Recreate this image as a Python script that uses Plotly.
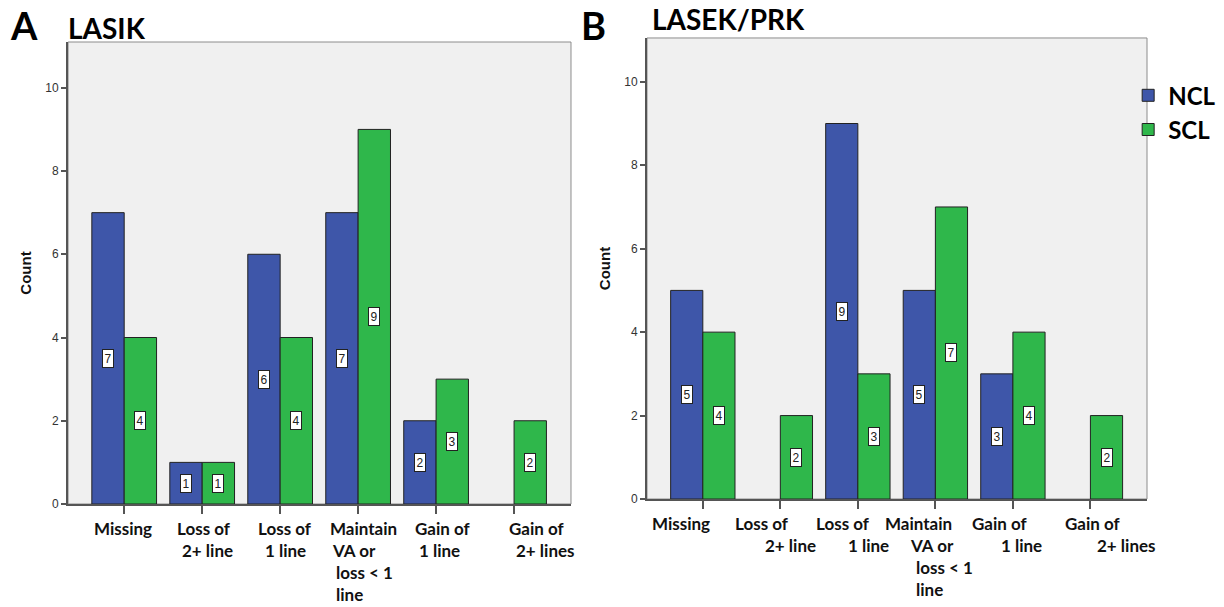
import plotly.graph_objects as go

# Outcome categories and their wrapped axis labels
categories = ["Missing", "Loss of 2+ line", "Loss of 1 line",
              "Maintain VA or loss < 1 line", "Gain of 1 line", "Gain of 2+ lines"]
category_lines = [["Missing"], ["Loss of", "2+ line"], ["Loss of", "1 line"],
                  ["Maintain", "VA or", "loss < 1", "line"], ["Gain of", "1 line"],
                  ["Gain of", "2+ lines"]]

# Counts per outcome
lasik_ncl = [7, 1, 6, 7, 2, 0]
lasik_scl = [4, 1, 4, 9, 3, 2]
lasek_ncl = [5, 0, 9, 5, 3, 0]
lasek_scl = [4, 2, 3, 7, 4, 2]

y_ticks = [0, 2, 4, 6, 8, 10]

# Styling
BLUE = "#3E56A9"
GREEN = "#2FB74B"
EDGE = "#222222"
PLOT_BG = "#F0F0F0"
AXIS = "#555555"
BAR_W = 0.415
LABEL_FONT = "Lato"
NUM_FONT = "Liberation Sans"

# left edge of each label line, in px relative to the category tick
label_offsets = {
    "A": [[-31], [-26, -21], [-23, -16], [-29, -27, -23, -23], [-22, -18], [-6, 1]],
    "B": [[-52], [-46, -16], [-43, -11], [-51, -26, -20, -20], [-42, -13], [-26, 6]],
}
LABEL_TOP = -24      # first label line below the axis, px
LABEL_STEP = 22      # line spacing of wrapped labels, px

xs = list(range(len(categories)))


def nz(vals):
    return [v if v else None for v in vals]


fig = go.Figure()

panels = [
    ("A", "LASIK", lasik_ncl, lasik_scl, "x", "y", [0.0556, 0.4665], [0.160, 0.930], 11.1),
    ("B", "LASEK/PRK", lasek_ncl, lasek_scl, "x2", "y2", [0.5286, 0.9371], [0.1683, 0.9367], 11.05),
]

for key, title, ncl, scl, xa, ya, xdom, ydom, ytop in panels:
    show = key == "B"
    fig.add_trace(go.Bar(
        x=xs, y=nz(ncl), name="NCL", width=BAR_W, offset=-BAR_W,
        marker=dict(color=BLUE, line=dict(color=EDGE, width=1)),
        xaxis=xa, yaxis=ya, showlegend=show, legendgroup="NCL",
        hovertext=categories, hoverinfo="text+y",
    ))
    fig.add_trace(go.Bar(
        x=xs, y=nz(scl), name="SCL", width=BAR_W, offset=0,
        marker=dict(color=GREEN, line=dict(color=EDGE, width=1)),
        xaxis=xa, yaxis=ya, showlegend=show, legendgroup="SCL",
        hovertext=categories, hoverinfo="text+y",
    ))

    sfx = "" if xa == "x" else "2"
    fig.update_layout(**{
        f"xaxis{sfx}": dict(
            domain=xdom, range=[-0.72, 5.73], anchor=ya,
            tickmode="array", tickvals=xs, ticktext=[""] * len(xs),
            ticks="outside", ticklen=8, tickcolor=AXIS, tickwidth=1.5,
            showline=True, linecolor=AXIS, linewidth=1.5,
            showgrid=False, zeroline=False, fixedrange=True,
        ),
        f"yaxis{sfx}": dict(
            domain=ydom, range=[0, ytop], anchor=xa,
            tickmode="array", tickvals=y_ticks,
            ticks="outside", ticklen=5, tickcolor=AXIS, tickwidth=1.5,
            tickfont=dict(family=NUM_FONT, size=12, color="#333333"),
            showline=True, linecolor=AXIS, linewidth=2,
            showgrid=False, zeroline=False,
            title=dict(text="Count", standoff=10,
                       font=dict(family=NUM_FONT, size=15, color="#111111", weight="bold")),
        ),
    })

    # frame on the top and right sides of the plot area
    fig.add_shape(type="rect", xref=f"{xa} domain", yref=f"{ya} domain",
                  x0=0, x1=1, y0=0, y1=1, line=dict(color="#8C8C8C", width=1),
                  layer="below")

    # value boxes at half bar height
    for i in xs:
        for vals, dx in ((ncl, -BAR_W / 2), (scl, BAR_W / 2)):
            v = vals[i]
            if v:
                fig.add_annotation(
                    x=i + dx, y=v / 2, xref=xa, yref=ya, text=str(v), showarrow=False,
                    font=dict(family=NUM_FONT, size=12, color="#222222"),
                    bgcolor="white", bordercolor="#222222", borderwidth=1, borderpad=1.5,
                )

    # wrapped category labels under the axis
    for i, lines in enumerate(category_lines):
        for k, line in enumerate(lines):
            fig.add_annotation(
                x=i, y=0, xref=xa, yref=f"{ya} domain", text=line, showarrow=False,
                xanchor="left", yanchor="middle", borderpad=0,
                xshift=label_offsets[key][i][k], yshift=LABEL_TOP - LABEL_STEP * k,
                font=dict(family=LABEL_FONT, size=17, color="#111111", weight="bold"),
            )

    # panel letter and title
    fig.add_annotation(
        x=xdom[0], y=1, xref="paper", yref="paper", text=key, showarrow=False,
        xanchor="left", yanchor="top", xshift=-60 if key == "A" else -68, yshift=0,
        font=dict(family=LABEL_FONT, size=38, color="#000000", weight="bold"),
    )
    fig.add_annotation(
        x=xdom[0], y=1, xref="paper", yref="paper", text=title, showarrow=False,
        xanchor="left", yanchor="top", xshift=-2 if key == "A" else 3,
        yshift=-9 if key == "A" else 0,
        font=dict(family=LABEL_FONT, size=28, color="#000000", weight="bold"),
    )

fig.update_layout(
    width=1224, height=607, autosize=False,
    margin=dict(l=0, r=0, t=0, b=0),
    paper_bgcolor="white", plot_bgcolor=PLOT_BG,
    barmode="overlay",
    showlegend=True,
    legend=dict(
        x=0.9217, y=0.878, xanchor="left", yanchor="top",
        font=dict(family=LABEL_FONT, size=24, color="#000000", weight="bold"),
        bgcolor="rgba(0,0,0,0)", tracegroupgap=0, itemclick=False,
    ),
)

fig.write_html("out.html", config={"responsive": False})
